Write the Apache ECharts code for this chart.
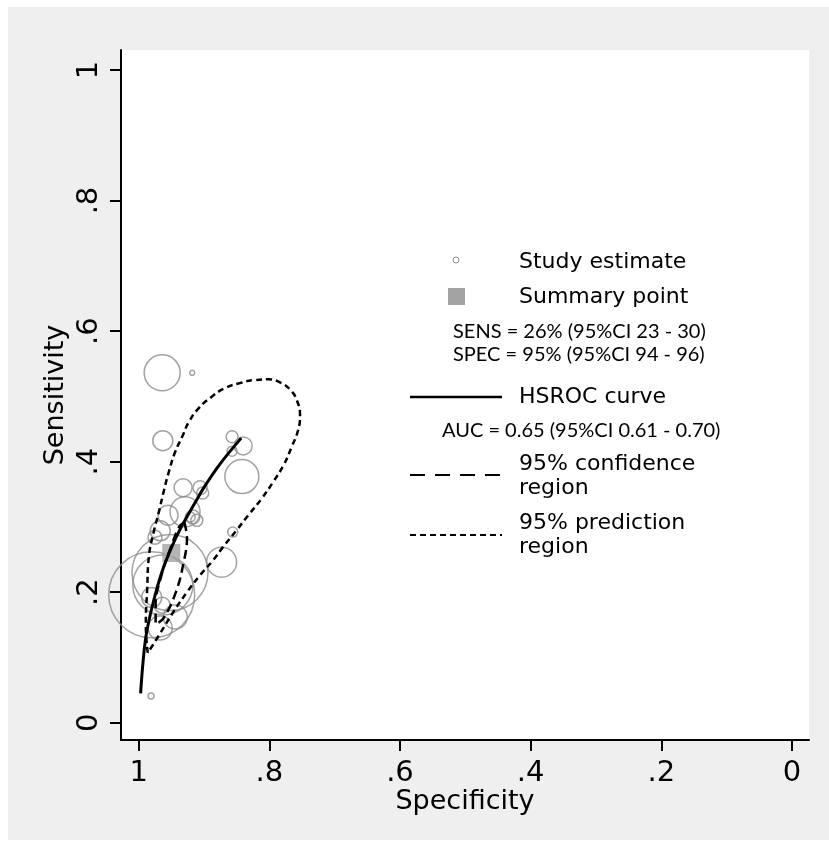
<!DOCTYPE html>
<html>
<head>
<meta charset="utf-8">
<title>HSROC</title>
<script src="https://cdn.jsdelivr.net/npm/echarts@6/dist/echarts.min.js"></script>
<style>
  html, body { margin: 0; padding: 0; background: #fff; }
  #chart { width: 829px; height: 846px; }
</style>
</head>
<body>
<div id="chart"></div>
<script>
// axis ticks
const specTicks = [0, 0.2, 0.4, 0.6, 0.8, 1];
const sensTicks = [0, 0.2, 0.4, 0.6, 0.8, 1];

// study estimates (specificity, sensitivity, marker weight)
const studySpec = [0.964, 0.918, 0.963, 0.857, 0.840, 0.857, 0.842, 0.932, 0.906, 0.902,
                   0.929, 0.917, 0.911, 0.856, 0.967, 0.873, 0.980, 0.952, 0.963, 0.980,
                   0.964, 0.944, 0.967, 0.981, 0.955, 0.921, 0.975];
const studySens = [0.536, 0.536, 0.432, 0.438, 0.424, 0.416, 0.377, 0.360, 0.360, 0.352,
                   0.323, 0.315, 0.310, 0.292, 0.294, 0.246, 0.196, 0.230, 0.211, 0.192,
                   0.180, 0.162, 0.145, 0.041, 0.318, 0.315, 0.284];
const studyWeight = [18, 2.5, 10, 6, 9, 5, 17, 9, 7, 6,
                     15, 7, 6, 5, 10, 15, 43, 38, 30, 10,
                     8, 12, 12, 3, 10, 5, 7];

// summary point
const summarySpec = [0.95];
const summarySens = [0.26];

// HSROC curve
const curveSpec = [0.997, 0.993, 0.988, 0.978, 0.965, 0.949, 0.933, 0.916, 0.899, 0.875, 0.843];
const curveSens = [0.045, 0.096, 0.137, 0.183, 0.229, 0.270, 0.303, 0.333, 0.362, 0.397, 0.436];

// 95% confidence region
const confSpec = [0.930, 0.926, 0.931, 0.943, 0.962, 0.974, 0.974, 0.965, 0.951, 0.938, 0.930];
const confSens = [0.307, 0.283, 0.246, 0.200, 0.160, 0.151, 0.180, 0.226, 0.268, 0.300, 0.307];

// 95% prediction region
const predSpec = [0.986, 0.989, 0.987, 0.984, 0.977, 0.969, 0.961, 0.953, 0.944, 0.933,
                  0.923, 0.908, 0.890, 0.869, 0.846, 0.822, 0.801, 0.783, 0.768, 0.758,
                  0.753, 0.756, 0.766, 0.778, 0.794, 0.812, 0.832, 0.850, 0.871, 0.886,
                  0.906, 0.926, 0.946, 0.967, 0.986];
const predSens = [0.107, 0.150, 0.203, 0.257, 0.292, 0.323, 0.357, 0.387, 0.415, 0.439,
                  0.461, 0.482, 0.498, 0.512, 0.520, 0.525, 0.526, 0.521, 0.510, 0.494,
                  0.471, 0.448, 0.422, 0.395, 0.369, 0.343, 0.318, 0.295, 0.269, 0.249,
                  0.226, 0.200, 0.171, 0.137, 0.107];

const pairs = (xs, ys) => xs.map((x, i) => [x, ys[i]]);

const tickFmt = (v) => {
    if (v === 0) return '0';
    if (v === 1) return '1';
    return String(Math.round(v * 10) / 10).replace(/^0/, '');
};

const axisFont = '"DejaVu Sans", sans-serif';
const noteFont = 'Lato, "Noto Sans", sans-serif';
const grey = '#8c8c8c';

const myChart = echarts.init(document.getElementById('chart'));

const option = {
    backgroundColor: '#ffffff',
    animation: false,
    grid: {
        left: 121,
        right: 20,
        top: 50,
        bottom: 106,
        show: true,
        backgroundColor: '#ffffff',
        borderWidth: 0
    },
    xAxis: {
        type: 'value',
        inverse: true,
        min: -0.026,
        max: 1.027,
        name: 'Specificity',
        nameLocation: 'middle',
        nameGap: 48,
        nameMoveOverlap: false,
        nameTextStyle: { fontFamily: axisFont, fontSize: 27, color: '#000' },
        axisLine: { onZero: false, lineStyle: { color: '#000', width: 2 } },
        axisTick: { show: true, length: 11, lineStyle: { color: '#000', width: 2 }, customValues: specTicks },
        axisLabel: { fontFamily: axisFont, fontSize: 29, color: '#000', margin: 19, formatter: tickFmt, customValues: specTicks },
        splitLine: { show: false }
    },
    yAxis: {
        type: 'value',
        min: -0.0265,
        max: 1.0306,
        name: 'Sensitivity',
        nameLocation: 'middle',
        nameGap: 52,
        nameMoveOverlap: false,
        nameTextStyle: { fontFamily: axisFont, fontSize: 27, color: '#000' },
        axisLine: { onZero: false, lineStyle: { color: '#000', width: 2 } },
        axisTick: { show: true, length: 11, lineStyle: { color: '#000', width: 2 }, customValues: sensTicks },
        axisLabel: { fontFamily: axisFont, fontSize: 29, color: '#000', margin: 17, rotate: 90, formatter: tickFmt, customValues: sensTicks },
        splitLine: { show: false }
    },
    series: [
        {
            name: 'Study estimate',
            type: 'scatter',
            clip: false,
            data: studySpec.map((x, i) => [x, studySens[i], studyWeight[i]]),
            symbol: 'circle',
            symbolSize: (val) => val[2] * 2,
            itemStyle: { color: 'rgba(0,0,0,0)', borderColor: grey, borderWidth: 1.5 },
            z: 2
        },
        {
            name: 'Summary point',
            type: 'scatter',
            data: pairs(summarySpec, summarySens),
            symbol: 'rect',
            symbolSize: 18,
            itemStyle: { color: '#a3a3a3' },
            z: 3
        },
        {
            name: '95% confidence region',
            type: 'line',
            data: pairs(confSpec, confSens),
            smooth: 0.4,
            showSymbol: false,
            lineStyle: { color: '#000', width: 2.5, type: [9, 5] },
            z: 4
        },
        {
            name: '95% prediction region',
            type: 'line',
            data: pairs(predSpec, predSens),
            smooth: 0.5,
            showSymbol: false,
            lineStyle: { color: '#000', width: 2.5, type: [6, 4] },
            z: 4
        },
        {
            name: 'HSROC curve',
            type: 'line',
            data: pairs(curveSpec, curveSens),
            smooth: 0.4,
            showSymbol: false,
            lineStyle: { color: '#000', width: 3 },
            z: 5
        }
    ],
    graphic: [
        // grey outer panel
        { type: 'rect', silent: true, z: -100, shape: { x: 8, y: 7, width: 821, height: 833 }, style: { fill: '#efefef' } },
        // legend
        { type: 'circle', shape: { cx: 456, cy: 260, r: 3 }, style: { fill: '#fff', stroke: grey, lineWidth: 1 } },
        { type: 'text', x: 519, y: 262, style: { text: 'Study estimate', fontFamily: axisFont, fontSize: 22, fill: '#000', verticalAlign: 'middle' } },
        { type: 'rect', shape: { x: 448, y: 288, width: 17, height: 17 }, style: { fill: '#a3a3a3' } },
        { type: 'text', x: 519, y: 297, style: { text: 'Summary point', fontFamily: axisFont, fontSize: 22, fill: '#000', verticalAlign: 'middle' } },
        { type: 'text', x: 453, y: 332, style: { text: 'SENS = 26% (95%CI 23 - 30)', fontFamily: noteFont, fontSize: 20, fill: '#000', verticalAlign: 'middle' } },
        { type: 'text', x: 453, y: 355, style: { text: 'SPEC = 95% (95%CI 94 - 96)', fontFamily: noteFont, fontSize: 20, fill: '#000', verticalAlign: 'middle' } },
        { type: 'line', shape: { x1: 410, y1: 397, x2: 502, y2: 397 }, style: { stroke: '#000', lineWidth: 2.5 } },
        { type: 'text', x: 519, y: 397, style: { text: 'HSROC curve', fontFamily: axisFont, fontSize: 22, fill: '#000', verticalAlign: 'middle' } },
        { type: 'text', x: 442, y: 431, style: { text: 'AUC = 0.65 (95%CI 0.61 - 0.70)', fontFamily: noteFont, fontSize: 20, fill: '#000', verticalAlign: 'middle' } },
        { type: 'line', shape: { x1: 410, y1: 475, x2: 502, y2: 475 }, style: { stroke: '#000', lineWidth: 2, lineDash: [15, 10] } },
        { type: 'text', x: 519, y: 464, style: { text: '95% confidence', fontFamily: axisFont, fontSize: 22, fill: '#000', verticalAlign: 'middle' } },
        { type: 'text', x: 519, y: 488, style: { text: 'region', fontFamily: axisFont, fontSize: 22, fill: '#000', verticalAlign: 'middle' } },
        { type: 'line', shape: { x1: 410, y1: 535, x2: 502, y2: 535 }, style: { stroke: '#000', lineWidth: 2, lineDash: [6, 4] } },
        { type: 'text', x: 519, y: 523, style: { text: '95% prediction', fontFamily: axisFont, fontSize: 22, fill: '#000', verticalAlign: 'middle' } },
        { type: 'text', x: 519, y: 547, style: { text: 'region', fontFamily: axisFont, fontSize: 22, fill: '#000', verticalAlign: 'middle' } }
    ]
};

myChart.setOption(option);
window.addEventListener('resize', () => {
    myChart.resize();
});
</script>
</body>
</html>
